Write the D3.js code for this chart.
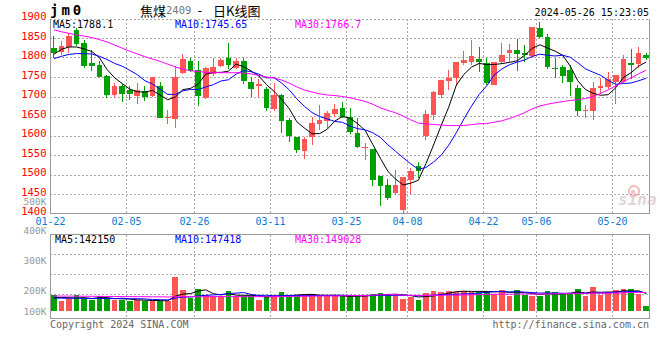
<!DOCTYPE html>
<html>
<head>
<meta charset="utf-8">
<script src="https://cdn.jsdelivr.net/npm/d3@7"></script>
<style>
  body { margin: 0; background: #fff; }
  svg { display: block; }
  text { font-family: "DejaVu Sans Mono", "Liberation Mono", monospace; }
</style>
</head>
<body>
<svg id="chart" width="660" height="360"></svg>
<script>
// Trading days on screen (MM-DD)
const dates = ["01-22","01-23","01-24","01-25","01-26","01-29","01-30","01-31","02-01","02-02",
  "02-05","02-06","02-07","02-08","02-19","02-20","02-21","02-22","02-23","02-26",
  "02-27","02-28","02-29","03-01","03-04","03-05","03-06","03-07","03-08","03-11",
  "03-12","03-13","03-14","03-15","03-18","03-19","03-20","03-21","03-22","03-25",
  "03-26","03-27","03-28","03-29","04-01","04-02","04-03","04-08","04-09","04-10",
  "04-11","04-12","04-15","04-16","04-17","04-18","04-19","04-22","04-23","04-24",
  "04-25","04-26","04-29","04-30","05-06","05-07","05-08","05-09","05-10","05-13",
  "05-14","05-15","05-16","05-17","05-20","05-21","05-22","05-23","05-24"];
const tickDates = ["01-22","02-05","02-26","03-11","03-25","04-08","04-22","05-06","05-20"];

// Daily OHLC
const open = [1824,1813,1826,1870,1837,1785,1781,1753,1704,1727,
  1717,1702,1714,1701,1728,1644,1642,1761,1790,1768,
  1695,1758,1779,1800,1772,1791,1738,1726,1719,1668,
  1704,1641,1596,1561,1596,1630,1636,1654,1670,1647,
  1607,1567,1565,1496,1473,1453,1410,1487,1522,1600,
  1653,1704,1741,1747,1787,1789,1796,1787,1730,1789,
  1811,1819,1811,1803,1875,1853,1772,1775,1768,1721,
  1663,1663,1721,1725,1736,1736,1787,1784,1806];
const high = [1855,1843,1862,1875,1844,1819,1791,1754,1734,1733,
  1726,1734,1727,1751,1736,1665,1779,1809,1800,1792,
  1776,1798,1800,1838,1800,1800,1751,1745,1725,1734,
  1707,1644,1597,1597,1648,1678,1662,1680,1685,1670,
  1644,1582,1566,1497,1488,1511,1494,1516,1533,1665,
  1714,1742,1768,1789,1817,1845,1827,1800,1789,1837,
  1835,1847,1832,1877,1892,1860,1800,1781,1781,1730,
  1678,1738,1748,1764,1756,1807,1823,1827,1812];
const low = [1800,1806,1812,1830,1774,1766,1749,1697,1699,1687,
  1691,1680,1688,1700,1646,1630,1620,1758,1762,1676,
  1693,1752,1776,1770,1770,1731,1700,1700,1664,1663,
  1606,1584,1556,1540,1575,1614,1620,1648,1644,1605,
  1567,1538,1471,1420,1435,1447,1400,1450,1492,1588,
  1641,1697,1717,1728,1781,1781,1762,1730,1730,1785,
  1789,1766,1788,1800,1849,1771,1748,1734,1701,1651,
  1646,1641,1706,1719,1682,1735,1744,1773,1793];
const close = [1812,1829,1855,1835,1779,1779,1751,1704,1727,1706,
  1707,1716,1700,1749,1646,1648,1750,1795,1765,1701,
  1774,1775,1794,1781,1791,1741,1719,1731,1671,1704,
  1638,1600,1563,1590,1632,1639,1657,1667,1648,1610,
  1570,1570,1487,1471,1441,1473,1494,1510,1508,1655,
  1711,1742,1748,1789,1794,1804,1789,1734,1789,1806,
  1819,1809,1806,1877,1853,1776,1770,1753,1738,1664,
  1665,1721,1728,1745,1754,1795,1782,1812,1800];
const volume = [130700,80600,97300,130700,97300,89000,122300,97300,89000,89000,
  80600,89000,80600,80600,80600,75100,275200,172400,102900,180700,
  130700,116800,116800,158500,116800,122300,116800,89000,122300,130700,
  150100,122300,122300,139000,139000,116800,116800,116800,116800,116800,
  130700,122300,139000,147300,130700,139000,97300,108400,89000,147300,
  164000,155700,164000,155700,164000,155700,155700,164000,139000,172400,
  122300,172400,130700,116800,122300,164000,155700,139000,139000,180700,
  116800,197400,125100,150100,172400,180700,180700,136200,38900];

// MA values for the first bars (window reaches before the chart)
const ma5Head = [1808,1821,1827,1827];
const ma10Head = [1797,1803,1808,1810,1810,1809,1803,1795,1785];
const ma30Head = [1871,1866,1862,1858,1855,1851,1846,1840,1832,1824,
  1816,1809,1802,1796,1790,1783,1776,1770,1766,1764,
  1762,1761,1761,1761,1761,1760,1758,1754,1750];
const volMa5Head = [108000,108000,106000,104000];
const volMa10Head = [103000,103000,102000,102000,101000,101000,100000,100000,99000];
const volMa30Head = [121000,120000,120000,119000,119000,118000,118000,117000,117000,116000,
  116000,115000,115000,114000,114000,113000,114000,114000,115000,115000,
  115000,116000,116000,116000,116000,115000,115000,115000,115000];

// Legend values and axis ticks
const priceMaLast = [1788.1, 1745.65, 1766.7];
const volMaLast = [142150, 147418, 149028];
const priceTicks = [1400,1450,1500,1550,1600,1650,1700,1750,1800,1850,1900];
const volTicks = [100000,200000,300000,400000,500000];

const maColors = ["#000000", "#0000ff", "#ff00ff"];
const upColor = "#ff5555", downColor = "#00a000";
const gridColor = "#aaaaaa", frameColor = "#999999";

// Layout
const left = 50, right = 650;
const priceTop = 18.5, priceBottom = 213.5;
const volTop = 234.5, volBottom = 318.5, volBase = 310.5;

let svg = d3.select("#chart");

let x = d3.scaleBand().domain(d3.range(dates.length)).range([left, right])
  .paddingInner(0.25).paddingOuter(0.125);
let step = x.step();
let cx = i => x(i) + x.bandwidth() / 2;
let slotX = i => Math.round(x(i) - step * 0.125) + 0.5;

let y = d3.scaleLinear().domain([1400, 1900]).range([priceBottom, priceTop]);
let yVol = d3.scaleLinear().domain([0, 500000]).range([volBase, volBase - 60]);
// volume labels sit where sina puts them, not on the bar scale
let yVolLabel = d3.scaleLinear().domain([100000, 200000, 500000]).range([311, 290, 201]);

function movingAvg(values, n, head) {
  return values.map((v, i) => i < n - 1 ? head[i] : d3.mean(values.slice(i - n + 1, i + 1)));
}

const priceMa = [movingAvg(close, 5, ma5Head), movingAvg(close, 10, ma10Head), movingAvg(close, 30, ma30Head)];
const volMa = [movingAvg(volume, 5, volMa5Head), movingAvg(volume, 10, volMa10Head), movingAvg(volume, 30, volMa30Head)];

let tickIdx = tickDates.map(d => dates.indexOf(d));

// ---- grids ----
let grid = svg.append("g").attr("stroke", gridColor).attr("stroke-dasharray", "2,2").attr("shape-rendering", "crispEdges");
grid.selectAll("line.h").data(priceTicks.slice(1)).join("line")
  .attr("x1", left).attr("x2", right)
  .attr("y1", d => Math.round(y(d)) + 0.5).attr("y2", d => Math.round(y(d)) + 0.5);
grid.selectAll("line.vh").data([1, 2, 3]).join("line")
  .attr("x1", left).attr("x2", right)
  .attr("y1", d => volTop + d * 20).attr("y2", d => volTop + d * 20);
tickIdx.slice(1).forEach(i => {
  grid.append("line").attr("x1", slotX(i)).attr("x2", slotX(i)).attr("y1", priceTop).attr("y2", priceBottom);
  grid.append("line").attr("x1", slotX(i)).attr("x2", slotX(i)).attr("y1", volTop).attr("y2", volBottom);
});

// ---- frames ----
let frame = svg.append("g").attr("stroke", frameColor).attr("fill", "none").attr("shape-rendering", "crispEdges");
frame.append("path").attr("d", `M${left + 0.5},${priceTop}V${priceBottom}H${right - 0.5}V${priceTop}`);
frame.append("rect").attr("x", left + 0.5).attr("y", volTop).attr("width", right - left - 1).attr("height", volBottom - volTop);

// ---- candles ----
let isUp = i => close[i] >= open[i];
let candles = svg.append("g").attr("shape-rendering", "crispEdges");
candles.selectAll("line").data(d3.range(dates.length)).join("line")
  .attr("x1", i => Math.floor(cx(i)) + 0.5).attr("x2", i => Math.floor(cx(i)) + 0.5)
  .attr("y1", i => y(high[i])).attr("y2", i => Math.min(y(low[i]), priceBottom))
  .attr("stroke", i => isUp(i) ? upColor : downColor);
candles.selectAll("rect").data(d3.range(dates.length)).join("rect")
  .attr("x", i => x(i)).attr("width", x.bandwidth())
  .attr("y", i => y(Math.max(open[i], close[i])))
  .attr("height", i => Math.max(1, Math.abs(y(open[i]) - y(close[i]))))
  .attr("fill", i => isUp(i) ? upColor : downColor);

// ---- volume bars ----
svg.append("g").attr("shape-rendering", "crispEdges")
  .selectAll("rect").data(volume).join("rect")
  .attr("x", (d, i) => x(i)).attr("width", x.bandwidth())
  .attr("y", d => yVol(d)).attr("height", d => volBase - yVol(d))
  .attr("fill", (d, i) => isUp(i) ? upColor : downColor);

// ---- moving averages ----
let priceLine = d3.line().x((d, i) => cx(i)).y(d => y(d));
let volLine = d3.line().x((d, i) => cx(i)).y(d => yVol(d));
priceMa.forEach((m, k) => svg.append("path").datum(m).attr("d", priceLine)
  .attr("fill", "none").attr("stroke", maColors[k]).attr("stroke-width", 1));
volMa.forEach((m, k) => svg.append("path").datum(m).attr("d", volLine)
  .attr("fill", "none").attr("stroke", maColors[k]).attr("stroke-width", 1));

// ---- axis labels ----
svg.append("g").attr("font-size", "10.5px").attr("fill", "#ff0000").attr("text-anchor", "end")
  .selectAll("text").data(priceTicks).join("text")
  .attr("x", 46.5).attr("y", d => y(d) - 2.5).attr("dominant-baseline", "central")
  .text(d => d);
svg.append("g").attr("font-size", "9.5px").attr("fill", "#999999").attr("text-anchor", "end")
  .selectAll("text").data(volTicks).join("text")
  .attr("x", 46.5).attr("y", d => yVolLabel(d)).attr("dominant-baseline", "central")
  .text(d => d / 1000 + "K");
svg.append("g").attr("font-size", "10px").attr("fill", "#0a78d2").attr("text-anchor", "middle")
  .selectAll("text").data(tickIdx).join("text")
  .attr("x", i => slotX(i)).attr("y", 221).attr("dominant-baseline", "central")
  .text(i => dates[i]);

// ---- legends ----
const legendX = [53, 175, 295];
const maNames = ["MA5", "MA10", "MA30"];
maNames.forEach((name, k) => {
  svg.append("text").attr("x", legendX[k]).attr("y", 24).attr("dominant-baseline", "central")
    .attr("font-size", "10px").attr("fill", maColors[k]).text(name + ":" + priceMaLast[k]);
  svg.append("text").attr("x", legendX[k] + (k === 0 ? 2 : 0)).attr("y", 239).attr("dominant-baseline", "central")
    .attr("font-size", "10px").attr("fill", maColors[k]).text(name + ":" + volMaLast[k]);
});

// ---- titles ----
svg.append("text").attr("x", 50).attr("y", 10).attr("dominant-baseline", "central")
  .attr("font-size", "14px").attr("font-weight", "bold").attr("letter-spacing", "3px").text("jm0");
let title = svg.append("text").attr("y", 10).attr("dominant-baseline", "central").attr("font-size", "13px");
title.append("tspan").attr("x", 140).attr("font-family", "Noto Sans CJK SC").text("焦煤");
title.append("tspan").attr("x", 166).attr("font-size", "10.5px").attr("fill", "#777").text("2409");
title.append("tspan").attr("x", 196).text("-");
title.append("tspan").attr("x", 213).attr("font-family", "Noto Sans CJK SC").text("日K线图");
svg.append("text").attr("x", 649).attr("y", 12).attr("dominant-baseline", "central").attr("text-anchor", "end")
  .attr("font-size", "10px").text("2024-05-26 15:23:05");

svg.append("text").attr("x", 50).attr("y", 324).attr("dominant-baseline", "central")
  .attr("font-size", "10px").attr("fill", "#666").text("Copyright 2024 SINA.COM");
svg.append("text").attr("x", 649).attr("y", 324).attr("dominant-baseline", "central").attr("text-anchor", "end")
  .attr("font-size", "10px").attr("fill", "#666").text("http://finance.sina.com.cn");

// sina watermark
let mark = svg.append("g").attr("opacity", 0.55);
mark.append("circle").attr("cx", 634).attr("cy", 191).attr("r", 5).attr("fill", "none").attr("stroke", "#f08080").attr("stroke-width", 2);
mark.append("circle").attr("cx", 633).attr("cy", 192).attr("r", 2).attr("fill", "#f08080");
mark.append("text").attr("x", 618).attr("y", 205).attr("font-family", "DejaVu Sans").attr("font-size", "16px")
  .attr("font-style", "italic").attr("font-weight", "bold").attr("fill", "#c8b4b4").text("sina");
</script>
</body>
</html>
